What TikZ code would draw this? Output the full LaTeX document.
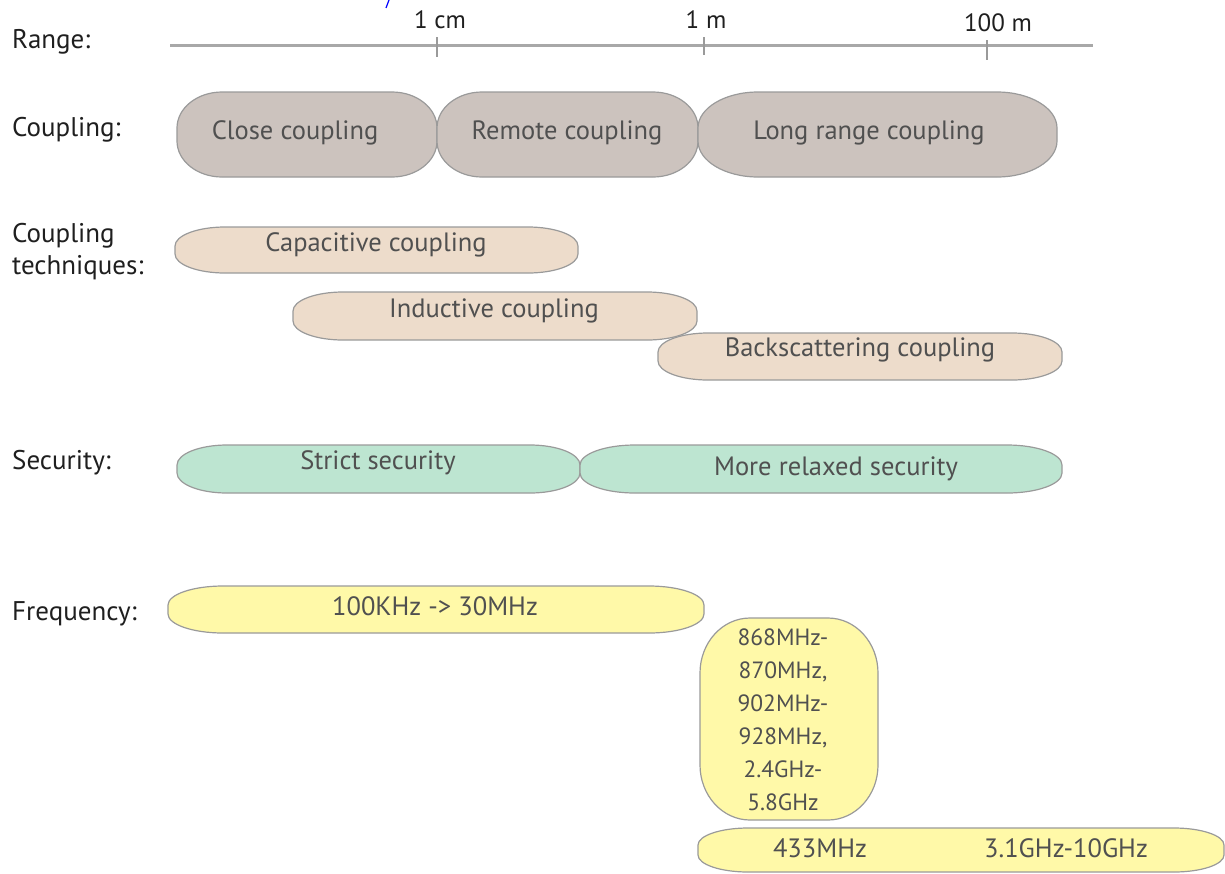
\documentclass[tikz,border=0pt]{standalone}
\usepackage{fontspec}
\setmainfont{PT Sans}
\definecolor{axisgray}{HTML}{A8A8A8}
\definecolor{edgegray}{HTML}{9A9A9A}
\definecolor{txtgray}{HTML}{505050}
\definecolor{cpl}{HTML}{CCC3BE}
\definecolor{tech}{HTML}{EDDCCB}
\definecolor{sec}{HTML}{BDE5D1}
\definecolor{freq}{HTML}{FFF9A8}
\newcommand\pillbox[7]{%
  \draw[#7] (#1+#5,-#2) -- (#3-#5,-#2)
    arc[start angle=90,end angle=0,x radius=#5,y radius=#6]
    -- (#3,-#4+#6)
    arc[start angle=0,end angle=-90,x radius=#5,y radius=#6]
    -- (#1+#5,-#4)
    arc[start angle=270,end angle=180,x radius=#5,y radius=#6]
    -- (#1,-#2-#6)
    arc[start angle=180,end angle=90,x radius=#5,y radius=#6] -- cycle;}
\tikzset{
  rowlabel/.style={anchor=west,font=\fontsize{27}{32}\selectfont,text=black!88,align=left,inner sep=0pt},
  ticklabel/.style={font=\fontsize{25}{28}\selectfont,text=black!88,inner sep=0pt},
  boxtext/.style={font=\fontsize{26.5}{33}\selectfont,text=txtgray,inner sep=0pt,align=center},
  smalltext/.style={font=\fontsize{23.5}{33}\selectfont,text=txtgray,inner sep=0pt,align=center},
  shapeline/.style={draw=edgegray,line width=1.2pt},
}
\begin{document}
\begin{tikzpicture}[x=1pt,y=1pt]
\useasboundingbox (0,-873) rectangle (1225,0);
% stray blue mark
\draw[blue,line width=1.2pt] (386,-8) -- (389,0);
% range axis
\draw[axisgray,line width=3pt] (170,-45) coordinate (axL) -- (1093,-45) coordinate (axR);
\draw[edgegray,line width=1.5pt] (437,-37) -- (437,-57);
\draw[edgegray,line width=1.5pt] (704,-37) -- (704,-55);
\draw[edgegray,line width=1.5pt] (987,-40) -- (987,-60);
\node[ticklabel] (t1) at (440,-20) {1 cm};
\node[ticklabel] (t2) at (706,-20) {1 m};
\node[ticklabel] (t3) at (998,-23) {100 m};
% row labels
\node[rowlabel] (lRange) at (12,-42) {Range:};
\node[rowlabel] (lCoup) at (12,-130) {Coupling:};
\node[rowlabel] (lTech) at (12,-252) {Coupling\\techniques:};
\node[rowlabel] (lSec) at (12,-463) {Security:};
\node[rowlabel] (lFreq) at (12,-614) {Frequency:};
% coupling
\pillbox{177}{92}{437}{177}{45}{36}{shapeline,fill=cpl}
\pillbox{437}{92}{698}{177}{45}{36}{shapeline,fill=cpl}
\pillbox{698}{92}{1057}{177}{60}{36}{shapeline,fill=cpl}
\node[boxtext] (close) at (295,-133) {Close coupling};
\node[boxtext] (remote) at (567,-133) {Remote coupling};
\node[boxtext] (long) at (869,-133) {Long range coupling};
% coupling techniques
\pillbox{175}{227}{578}{273}{50}{19}{shapeline,fill=tech}
\pillbox{293}{292}{697}{340}{50}{19}{shapeline,fill=tech}
\pillbox{658}{333}{1062}{380}{50}{19}{shapeline,fill=tech}
\node[boxtext] (cap) at (376,-245) {Capacitive coupling};
\node[boxtext] (ind) at (494,-311) {Inductive coupling};
\node[boxtext] (back) at (860,-350) {Backscattering coupling};
% security
\pillbox{177}{445}{580}{493}{50}{20}{shapeline,fill=sec}
\pillbox{580}{445}{1062}{493}{55}{20}{shapeline,fill=sec}
\node[boxtext] (strict) at (378,-463) {Strict security};
\node[boxtext] (relax) at (836,-469) {More relaxed security};
% frequency
\pillbox{168}{586}{704}{633}{55}{19}{shapeline,fill=freq}
\node[boxtext] (lf) at (435,-606) {100KHz -> 30MHz};
\pillbox{700}{618}{878}{820}{50}{55}{shapeline,fill=freq}
\node[smalltext] (uhf) at (783,-720) {868MHz-\\870MHz,\\902MHz-\\928MHz,\\2.4GHz-\\5.8GHz};
\pillbox{698}{828}{1224}{872}{50}{17}{shapeline,fill=freq}
\node[boxtext] (f433) at (820,-848) {433MHz};
\node[boxtext] (uwb) at (1066,-848) {3.1GHz-10GHz};
\end{tikzpicture}
\end{document}
